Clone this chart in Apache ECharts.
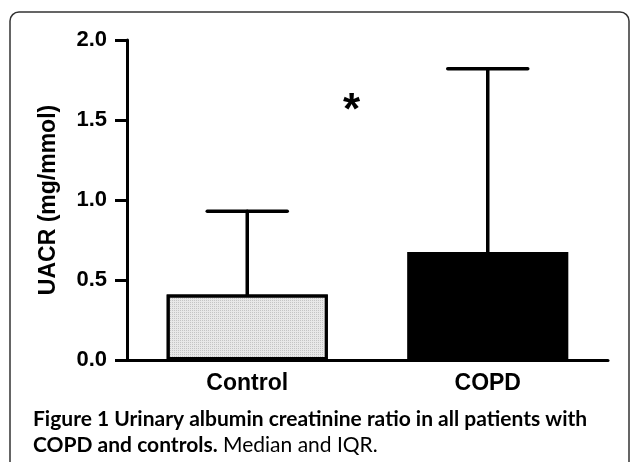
<!DOCTYPE html>
<html>
<head>
<meta charset="utf-8">
<script src="https://cdn.jsdelivr.net/npm/echarts@6/dist/echarts.min.js"></script>
<style>
html,body{margin:0;padding:0;background:#fff;}
#chart{width:630px;height:462px;}
</style>
</head>
<body>
<div id="chart"></div>
<script>
const categories = ['Control', 'COPD'];
const medians = [0.41, 0.675];
const upperIQR = [0.93, 1.82];
const yTicks = [0, 0.5, 1.0, 1.5, 2.0];
const yAxisTitle = 'UACR (mg/mmol)';
const significanceMark = '*';
const captionBold1 = 'Figure 1 Urinary albumin creatinine ratio in all patients with';
const captionBold2 = 'COPD and controls.';
const captionRegular2 = ' Median and IQR.';

const chart = echarts.init(document.getElementById('chart'), null, {renderer: 'canvas'});

const errData = categories.map((c, i) => [i, medians[i], upperIQR[i]]);

const option = {
  animation: false,
  backgroundColor: '#ffffff',
  grid: {left: 127, right: 22, top: 40, bottom: 102},
  xAxis: {
    type: 'category',
    data: categories,
    axisLine: {lineStyle: {color: '#000', width: 3}},
    axisTick: {alignWithLabel: true, length: 12, lineStyle: {color: '#000', width: 3}},
    axisLabel: {color: '#000', fontFamily: 'Liberation Sans, Arial, sans-serif', fontWeight: 'bold', fontSize: 23, margin: 12}
  },
  yAxis: {
    type: 'value',
    min: yTicks[0],
    max: yTicks[yTicks.length - 1],
    interval: 0.5,
    name: yAxisTitle,
    nameLocation: 'middle',
    nameRotate: 90,
    nameGap: 67,
    nameTextStyle: {color: '#000', fontFamily: 'Liberation Sans, Arial, sans-serif', fontWeight: 'bold', fontSize: 23},
    splitLine: {show: false},
    axisLine: {show: true, lineStyle: {color: '#000', width: 3}},
    axisTick: {show: true, length: 12, lineStyle: {color: '#000', width: 3}},
    axisLabel: {color: '#000', fontFamily: 'Liberation Sans, Arial, sans-serif', fontWeight: 'bold', fontSize: 22, margin: 20,
      formatter: v => v.toFixed(1)}
  },
  series: [
    {
      type: 'bar',
      barWidth: '67%',
      data: medians.map((v, i) => ({
        value: v,
        itemStyle: i === 0 ? {
          color: '#e8e8e8',
          decal: {symbol: 'rect', symbolSize: 1, dashArrayX: [1, 1], dashArrayY: [1, 1], color: '#c4c4c4', rotation: 0}
        } : {color: '#000'}
      })),
      itemStyle: {borderColor: '#000', borderWidth: 3},
      z: 3
    },
    {
      type: 'custom',
      data: errData,
      z: 2,
      renderItem: function (params, api) {
        const x = api.value(0);
        const base = api.coord([x, api.value(1)]);
        const top = api.coord([x, api.value(2)]);
        const half = 40;
        const st = {stroke: '#000', lineWidth: 3.5, lineCap: 'round'};
        return {
          type: 'group',
          children: [
            {type: 'line', shape: {x1: base[0], y1: base[1], x2: top[0], y2: top[1]}, style: st},
            {type: 'line', shape: {x1: top[0] - half, y1: top[1], x2: top[0] + half, y2: top[1]}, style: st}
          ]
        };
      }
    }
  ],
  graphic: [
    {
      type: 'rect',
      shape: {x: 10, y: 12, width: 619, height: 480, r: 9},
      style: {fill: 'none', stroke: '#333', lineWidth: 1.5},
      silent: true
    },
    {
      type: 'text',
      left: 343, top: 90,
      style: {text: significanceMark, font: 'bold 44px Liberation Sans, Arial, sans-serif', fill: '#000'}
    },
    {
      type: 'text',
      left: 33, top: 409,
      style: {
        text: '{b|' + captionBold1 + '}\n{b|' + captionBold2 + '}{r|' + captionRegular2 + '}',
        rich: {
          b: {fontFamily: 'Lato, sans-serif', fontWeight: 'bold', fontSize: 21, lineHeight: 26, color: '#231f20'},
          r: {fontFamily: 'Lato, sans-serif', fontWeight: 'normal', fontSize: 21, lineHeight: 26, color: '#555'}
        }
      }
    }
  ]
};
chart.setOption(option);
</script>
</body>
</html>
